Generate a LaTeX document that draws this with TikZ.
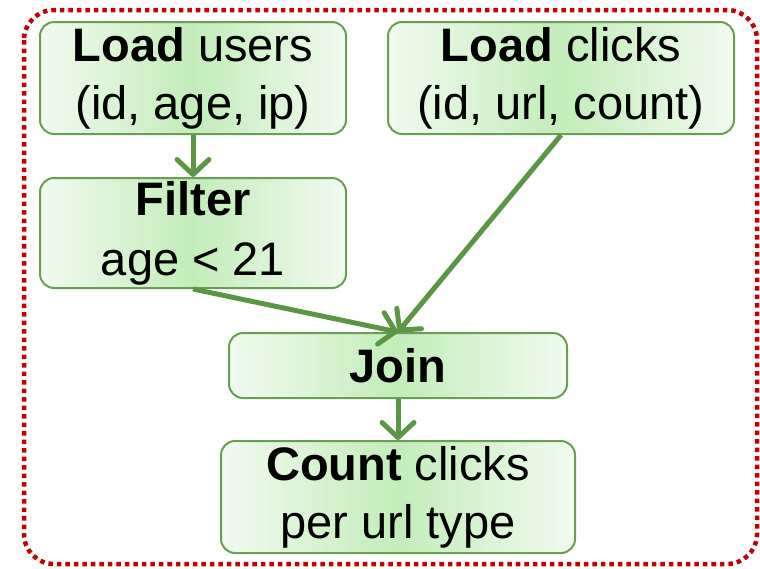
\documentclass[tikz,border=0pt]{standalone}
\usepackage{fontspec}
\setmainfont{Liberation Sans}
\usetikzlibrary{arrows.meta}
\definecolor{boxline}{HTML}{6A9E52}
\definecolor{boxmid}{HTML}{C2EDB9}
\definecolor{boxedge}{HTML}{F1FAEF}
\definecolor{flow}{HTML}{5B9644}
\definecolor{frame}{HTML}{C00000}
\tikzset{
  opbox/.style={draw=boxline, line width=2pt, rounded corners=14pt,
    left color=boxedge, right color=boxedge, middle color=boxmid,
    align=center, inner sep=0pt, text=black,
    font=\fontsize{47}{58}\selectfont},
  flowarrow/.style={draw=flow, line width=5pt,
    -{Straight Barb[length=15pt, width=32pt, line cap=round, line join=round]}}
}
\begin{document}
\begin{tikzpicture}[x=1pt, y=-1pt]
  \useasboundingbox (0,0) rectangle (760,568);
  % dotted frame round the whole plan
  \draw[frame, line width=4.5pt, dash pattern=on 4.5pt off 4pt, rounded corners=30pt]
    (24,10) rectangle (757,564);

  \node[opbox, minimum width=306pt, minimum height=112pt] (lu) at (193,78)
    {\textbf{Load} users\\(id, age, ip)};
  \node[opbox, minimum width=346pt, minimum height=112pt] (lc) at (561,78)
    {\textbf{Load} clicks\\(id, url, count)};
  \node[opbox, minimum width=306pt, minimum height=110pt] (fi) at (193,233)
    {\textbf{Filter}\\[2pt]age < 21};
  \node[opbox, minimum width=338pt, minimum height=65pt] (jo) at (398,365.5)
    {\textbf{Join}};
  \node[opbox, minimum width=354pt, minimum height=112pt] (co) at (398,497)
    {\textbf{Count} clicks\\per url type};

  \draw[flowarrow] (lu.south) -- (fi.north);
  \draw[flowarrow] (fi.south) -- (jo.north);
  \draw[flowarrow] (lc.south) -- (jo.north);
  \draw[flowarrow] (jo.south) -- (co.north);
\end{tikzpicture}
\end{document}
